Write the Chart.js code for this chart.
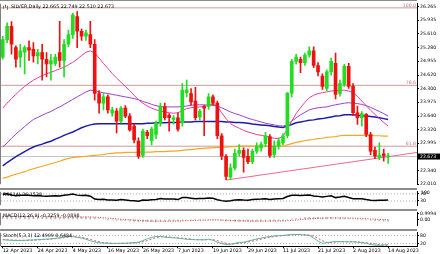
<!DOCTYPE html>
<html>
<head>
<meta charset="utf-8">
<script src="https://cdn.jsdelivr.net/npm/chart.js@4.4.0/dist/chart.umd.min.js"></script>
<style>
  body { margin: 0; background: #fff; width: 440px; height: 254px; overflow: hidden; position: relative; }
  canvas { position: absolute; left: 0; }
</style>
</head>
<body>
<canvas id="main" width="440" height="188" style="top:0px"></canvas>
<canvas id="rsi" width="440" height="21" style="top:188px"></canvas>
<canvas id="macd" width="440" height="20" style="top:209px"></canvas>
<canvas id="stoch" width="440" height="25" style="top:229px"></canvas>
<script>
"use strict";

// ---- data ----
const dateLabels = ['12 Apr 2023', '24 Apr 2023', '4 May 2023', '16 May 2023', '26 May 2023', '7 Jun 2023',
                    '19 Jun 2023', '29 Jun 2023', '11 Jul 2023', '21 Jul 2023', '2 Aug 2023', '14 Aug 2023'];
const dateBars = [0, 8, 16, 24, 32, 40, 48, 56, 64, 72, 80, 88];

const opens = [25.05, 25.47, 25.79, 25.28, 25.05, 25.17, 25.28, 25.24, 25.08, 25.16,
               25.00, 24.89, 24.90, 25.16, 24.97, 25.36, 25.59, 26.02, 25.67, 25.55,
               25.59, 25.36, 24.18, 23.95, 24.10, 23.71, 23.76, 23.52, 23.83, 23.64,
               23.40, 23.04, 22.70, 23.25, 23.05, 23.20, 23.48, 23.87, 23.66, 23.56,
               23.60, 23.48, 24.20, 24.18, 24.00, 23.62, 23.87, 23.87, 24.10, 23.95,
               23.17, 22.68, 22.18, 22.40, 22.75, 22.82, 22.68, 22.55, 22.80, 22.88,
               22.98, 23.15, 22.72, 22.92, 23.00, 23.17, 24.19, 24.95, 25.00, 24.92,
               25.10, 25.20, 24.85, 24.60, 24.30, 24.70, 24.90, 24.18, 24.40, 24.83,
               24.35, 23.72, 23.60, 23.68, 23.20, 22.82, 22.65, 22.74, 22.665];
const highs = [25.55, 25.87, 25.90, 25.32, 25.36, 25.32, 25.44, 25.40, 25.24, 25.36,
               25.16, 25.12, 25.12, 25.91, 25.47, 25.70, 26.10, 26.14, 25.72, 25.70,
               25.91, 25.47, 24.25, 24.18, 24.15, 23.85, 23.82, 23.87, 23.89, 23.70,
               23.45, 23.12, 23.33, 23.30, 23.38, 23.52, 23.95, 23.95, 23.70, 23.65,
               23.72, 24.42, 24.50, 24.30, 24.33, 23.80, 23.90, 24.18, 24.15, 24.00,
               23.22, 22.72, 22.50, 22.85, 22.96, 22.88, 22.85, 22.85, 23.00, 23.02,
               23.25, 23.20, 23.05, 23.12, 23.22, 24.20, 25.00, 25.12, 25.05, 25.15,
               25.30, 25.30, 24.92, 24.65, 24.75, 25.03, 25.15, 24.50, 24.88, 24.90,
               24.42, 23.88, 23.75, 23.70, 23.25, 22.90, 23.00, 22.85, 22.749];
const lows  = [25.00, 25.40, 25.12, 24.81, 24.81, 24.65, 24.97, 24.93, 24.89, 24.50,
               24.58, 24.50, 24.85, 24.81, 24.58, 25.30, 25.50, 25.28, 25.45, 25.45,
               25.28, 24.02, 23.71, 23.79, 23.71, 23.64, 23.24, 23.48, 23.60, 23.28,
               23.00, 22.63, 22.65, 23.10, 22.95, 23.10, 23.40, 23.55, 23.28, 23.45,
               23.28, 23.40, 24.10, 23.90, 23.55, 23.55, 23.17, 23.80, 23.90, 23.10,
               22.60, 22.12, 22.12, 22.35, 22.68, 22.30, 22.50, 22.50, 22.75, 22.80,
               22.90, 22.65, 22.65, 22.85, 22.95, 23.12, 24.10, 24.88, 24.68, 24.85,
               25.05, 24.80, 24.60, 24.28, 24.25, 24.62, 24.05, 24.12, 24.35, 24.30,
               23.65, 23.44, 23.40, 23.15, 22.72, 22.62, 22.60, 22.56, 22.510];
const closes = [25.47, 25.79, 25.36, 25.00, 25.20, 25.28, 25.22, 25.08, 25.16, 25.00,
                24.89, 24.97, 25.05, 24.97, 25.36, 25.59, 26.06, 25.67, 25.55, 25.63,
                25.36, 24.18, 23.95, 24.10, 23.79, 23.79, 23.52, 23.83, 23.64, 23.31,
                23.07, 22.68, 23.28, 23.17, 23.33, 23.48, 23.87, 23.60, 23.60, 23.60,
                23.33, 24.26, 24.27, 23.98, 23.60, 23.76, 23.83, 24.10, 23.95, 23.17,
                22.68, 22.20, 22.40, 22.75, 22.82, 22.65, 22.55, 22.80, 22.92, 22.96,
                23.17, 22.70, 22.92, 23.05, 23.17, 24.19, 24.95, 25.05, 24.92, 25.10,
                25.20, 24.85, 24.70, 24.35, 24.70, 24.95, 24.16, 24.42, 24.83, 24.35,
                23.72, 23.60, 23.70, 23.20, 22.80, 22.68, 22.71, 22.69, 22.673];

const maPink = [23.83, 23.95, 24.06, 24.16, 24.26, 24.35, 24.43, 24.50, 24.56, 24.61,
                24.65, 24.69, 24.73, 24.77, 24.81, 24.87, 24.93, 25.00, 25.09, 25.17,
                25.20, 25.15, 25.03, 24.90, 24.78, 24.66, 24.55, 24.45, 24.35, 24.25,
                24.14, 24.03, 23.95, 23.88, 23.83, 23.79, 23.76, 23.74, 23.72, 23.71,
                23.72, 23.77, 23.82, 23.84, 23.85, 23.86, 23.87, 23.90, 23.93, 23.88,
                23.72, 23.58, 23.46, 23.40, 23.35, 23.30, 23.26, 23.23, 23.20, 23.18,
                23.16, 23.13, 23.11, 23.10, 23.16, 23.33, 23.52, 23.70, 23.84, 23.97,
                24.08, 24.14, 24.18, 24.20, 24.22, 24.24, 24.25, 24.26, 24.26, 24.24,
                24.20, 24.11, 24.00, 23.89, 23.78, 23.68, 23.58, 23.49, 23.40];
const maPurple = [22.90, 23.00, 23.11, 23.21, 23.30, 23.39, 23.48, 23.56, 23.61, 23.66,
                  23.71, 23.75, 23.81, 23.86, 23.92, 23.98, 24.04, 24.10, 24.16, 24.22,
                  24.26, 24.25, 24.22, 24.20, 24.18, 24.16, 24.14, 24.12, 24.10, 24.08,
                  24.06, 24.03, 23.99, 23.96, 23.92, 23.89, 23.87, 23.86, 23.86, 23.86,
                  23.86, 23.87, 23.88, 23.90, 23.91, 23.91, 23.91, 23.90, 23.90, 23.88,
                  23.84, 23.79, 23.74, 23.70, 23.67, 23.63, 23.59, 23.56, 23.53, 23.50,
                  23.47, 23.45, 23.43, 23.41, 23.40, 23.44, 23.52, 23.60, 23.67, 23.73,
                  23.79, 23.82, 23.84, 23.85, 23.86, 23.89, 23.91, 23.93, 23.95, 23.96,
                  23.95, 23.94, 23.92, 23.89, 23.85, 23.80, 23.75, 23.70, 23.64];
const maBlue = [22.45, 22.53, 22.60, 22.67, 22.73, 22.79, 22.85, 22.90, 22.94, 22.97,
                23.01, 23.04, 23.09, 23.13, 23.18, 23.22, 23.26, 23.31, 23.36, 23.40,
                23.43, 23.45, 23.46, 23.46, 23.46, 23.46, 23.46, 23.46, 23.46, 23.46,
                23.46, 23.46, 23.46, 23.47, 23.47, 23.48, 23.48, 23.48, 23.49, 23.49,
                23.49, 23.50, 23.50, 23.50, 23.51, 23.51, 23.51, 23.51, 23.51, 23.51,
                23.51, 23.50, 23.50, 23.49, 23.49, 23.48, 23.47, 23.45, 23.44, 23.43,
                23.42, 23.41, 23.39, 23.38, 23.37, 23.40, 23.44, 23.48, 23.50, 23.52,
                23.54, 23.55, 23.57, 23.58, 23.60, 23.62, 23.64, 23.65, 23.67, 23.67,
                23.67, 23.66, 23.65, 23.64, 23.63, 23.62, 23.60, 23.58, 23.56];
const maOrange = [22.15, 22.18, 22.22, 22.25, 22.28, 22.31, 22.35, 22.38, 22.41, 22.44,
                  22.47, 22.50, 22.53, 22.56, 22.60, 22.63, 22.65, 22.66, 22.67, 22.68,
                  22.69, 22.70, 22.71, 22.72, 22.74, 22.75, 22.76, 22.76, 22.77, 22.77,
                  22.77, 22.78, 22.78, 22.78, 22.78, 22.79, 22.79, 22.79, 22.80, 22.80,
                  22.81, 22.82, 22.83, 22.84, 22.85, 22.86, 22.87, 22.88, 22.88, 22.89,
                  22.90, 22.90, 22.91, 22.91, 22.92, 22.92, 22.92, 22.92, 22.92, 22.92,
                  22.92, 22.92, 22.92, 22.92, 22.92, 22.95, 22.98, 23.01, 23.03, 23.05,
                  23.07, 23.08, 23.10, 23.11, 23.13, 23.14, 23.15, 23.17, 23.18, 23.18,
                  23.18, 23.18, 23.18, 23.18, 23.18, 23.17, 23.17, 23.16, 23.16];

const fibLevels = [26.23, 24.377, 22.92];
const fibNames = ['100.0', '78.6', '61.8'];
const trendX = [51, 94.6];
const trendY = [22.11, 22.77];
const lastPrice = 22.673;
const priceTicks = [26.265, 25.935, 25.610, 25.280, 24.955, 24.620, 24.300, 23.975,
                    23.640, 23.320, 22.995, 22.340, 22.010];

const rsi = [68, 71, 64, 60, 62, 63, 62, 60, 61, 58, 57, 58, 59, 58, 62, 65, 69, 63, 61, 62,
             57, 41, 38, 40, 36, 36, 34, 38, 36, 33, 31, 28, 35, 34, 37, 39, 44, 41, 41, 41,
             38, 49, 49, 46, 42, 44, 44, 47, 45, 37, 32, 28, 31, 36, 37, 35, 34, 38, 40, 41,
             43, 38, 41, 43, 44, 55, 62, 63, 61, 63, 64, 58, 56, 52, 56, 59, 49, 52, 56, 50,
             43, 42, 43, 38, 34, 33, 34, 34, 36.15];
const rsiLevels = [70, 30];

const macdMain = [0.55, 0.58, 0.56, 0.52, 0.50, 0.48, 0.46, 0.43, 0.41, 0.38, 0.35, 0.33, 0.31, 0.29, 0.30,
                  0.33, 0.40, 0.41, 0.41, 0.41, 0.38, 0.25, 0.13, 0.05, -0.04, -0.10, -0.17, -0.20, -0.24,
                  -0.29, -0.35, -0.42, -0.42, -0.42, -0.41, -0.39, -0.33, -0.30, -0.28, -0.26, -0.26,
                  -0.18, -0.12, -0.10, -0.10, -0.09, -0.09, -0.06, -0.05, -0.11, -0.19, -0.28, -0.33,
                  -0.34, -0.34, -0.35, -0.36, -0.35, -0.33, -0.31, -0.27, -0.28, -0.27, -0.25, -0.22,
                  -0.12, 0.02, 0.13, 0.20, 0.27, 0.33, 0.34, 0.33, 0.29, 0.28, 0.29, 0.23, 0.20, 0.21,
                  0.18, 0.10, 0.02, -0.04, -0.12, -0.19, -0.25, -0.29, -0.31, -0.33];
const macdSignal = [0.45, 0.48, 0.50, 0.51, 0.51, 0.51, 0.50, 0.49, 0.47, 0.45, 0.43, 0.41, 0.39, 0.37, 0.35,
                    0.35, 0.36, 0.37, 0.38, 0.39, 0.39, 0.36, 0.32, 0.26, 0.20, 0.14, 0.08, 0.02, -0.03,
                    -0.08, -0.13, -0.19, -0.24, -0.28, -0.31, -0.33, -0.33, -0.33, -0.32, -0.31, -0.30,
                    -0.27, -0.24, -0.21, -0.19, -0.17, -0.15, -0.13, -0.11, -0.11, -0.13, -0.16, -0.19,
                    -0.22, -0.25, -0.27, -0.29, -0.30, -0.31, -0.31, -0.30, -0.30, -0.29, -0.28, -0.27,
                    -0.24, -0.19, -0.12, -0.06, 0.01, 0.07, 0.13, 0.17, 0.20, 0.22, 0.24, 0.24, 0.23, 0.23,
                    0.22, 0.20, 0.17, 0.14, 0.10, 0.06, 0.02, -0.02, -0.06, -0.09];
const macdTicks = [0.9994, 0];

const stochMain = [48, 46, 44, 43, 43, 44, 46, 47, 49, 51, 53, 55, 59, 63, 68, 72, 72, 66, 60, 52,
                   40, 32, 26, 23, 22, 21, 21, 22, 22, 24, 27, 30, 42, 55, 66, 72, 72, 68, 64, 63,
                   60, 56, 52, 50, 48, 48, 48, 52, 45, 30, 20, 13, 15, 22, 28, 30, 38, 46, 54, 60,
                   67, 72, 76, 79, 80, 84, 87, 88, 86, 83, 80, 60, 38, 22, 26, 32, 35, 34, 33, 33,
                   33, 30, 26, 22, 13, 9, 7, 9, 12.49];
const stochSignal = [50, 48, 46, 45, 44, 43, 44, 45, 47, 49, 51, 53, 56, 59, 63, 68, 71, 70, 66, 59,
                     51, 41, 33, 27, 24, 22, 21, 21, 22, 23, 24, 27, 33, 42, 54, 64, 70, 71, 68, 65,
                     62, 60, 56, 53, 50, 49, 48, 49, 48, 42, 32, 21, 16, 17, 22, 27, 32, 38, 46, 53,
                     60, 66, 72, 76, 78, 81, 84, 86, 87, 86, 83, 74, 59, 40, 29, 27, 31, 34, 34, 33,
                     33, 32, 30, 26, 22, 17, 12, 9, 8.65];
const stochLevels = [80, 20];

// ---- helpers ----
const FONT = '"DejaVu Sans", sans-serif';
const XMIN = -0.4, XMAX = 94.6;
const bars = closes.map((c, i) => i);
const candleColor = bars.map(i => closes[i] >= opens[i] ? '#22dd22' : '#ee1111');
const pts = arr => arr.map((v, i) => ({x: i, y: v}));
const hline = v => [{x: XMIN, y: v}, {x: XMAX, y: v}];

function line(data, color, width, extra) {
  return Object.assign({type: 'line', data: data, borderColor: color, borderWidth: width,
                        pointRadius: 0, fill: false, tension: 0, order: 1}, extra || {});
}

function yAxis(min, max, ticks, fmt) {
  return {
    position: 'right', min: min, max: max,
    afterFit: s => { s.width = 23; },
    afterBuildTicks: s => { s.ticks = ticks.map(v => ({value: v})); },
    ticks: {font: {family: FONT, size: 4.6}, color: '#000', padding: 1, callback: fmt},
    grid: {drawOnChartArea: false, tickLength: 2, color: '#000'},
    border: {display: true, color: '#000', width: 1}
  };
}

function xAxis(show) {
  return {
    type: 'linear', min: XMIN, max: XMAX, display: show, offset: false,
    afterBuildTicks: s => { s.ticks = dateBars.map(v => ({value: v})); },
    ticks: {font: {family: FONT, size: 4.8}, color: '#000', align: 'start', padding: 0, maxRotation: 0,
            autoSkip: false, callback: v => dateLabels[dateBars.indexOf(v)]},
    grid: {drawOnChartArea: false, tickLength: 2, color: '#000', offset: false},
    border: {display: true, color: '#000', width: 1}
  };
}

// panel frame + title text (+ optional label at the top of the right scale)
function panelDecor(title, topLine, topLabel) {
  return {
    id: 'panelDecor',
    afterDatasetsDraw(chart) {
      const {ctx, chartArea: a} = chart;
      ctx.save();
      ctx.fillStyle = '#8c8c8c';
      ctx.fillRect(0, 0, a.right, topLine);
      ctx.fillStyle = '#808080';
      ctx.fillRect(0, a.top, 1, a.bottom - a.top);
      ctx.font = '4.8px ' + FONT;
      ctx.fillStyle = '#000';
      ctx.textBaseline = 'top';
      ctx.fillText(title, a.left + (topLine === 1 ? 10 : 2), a.top + 1);
      if (topLabel) {
        ctx.font = '4.6px ' + FONT;
        ctx.fillText(topLabel, a.right + 4, a.top - 1);
      }
      ctx.restore();
    }
  };
}

const baseOptions = {
  responsive: false, animation: false, events: [], devicePixelRatio: 1,
  plugins: {legend: {display: false}, tooltip: {enabled: false}}
};

// ---- main price chart ----
const mainDecor = {
  id: 'mainDecor',
  afterDatasetsDraw(chart) {
    const {ctx, chartArea: a, scales: {y}} = chart;
    ctx.save();
    // little chart icon before the title
    ctx.fillStyle = '#4a8a4a';
    ctx.fillRect(a.left + 2, a.top + 2, 1, 3);
    ctx.fillStyle = '#c04040';
    ctx.fillRect(a.left + 4, a.top + 1, 1, 3);
    ctx.fillStyle = '#4a8a4a';
    ctx.fillRect(a.left + 6, a.top + 2, 1, 4);
    ctx.font = '4.6px ' + FONT;
    ctx.textAlign = 'right';
    ctx.textBaseline = 'bottom';
    ctx.fillStyle = '#c07878';
    fibLevels.forEach((v, k) => ctx.fillText(fibNames[k], a.right - 1, y.getPixelForValue(v)));
    const py = y.getPixelForValue(lastPrice);
    ctx.fillStyle = '#000';
    ctx.fillRect(a.right + 1, py - 3, 22, 6);
    ctx.fillStyle = '#fff';
    ctx.textAlign = 'left';
    ctx.textBaseline = 'middle';
    ctx.fillText(lastPrice.toFixed(3), a.right + 3, py);
    ctx.restore();
  }
};

new Chart(document.getElementById('main'), {
  type: 'bar',
  data: {
    datasets: [
      {type: 'bar', data: bars.map(i => ({x: i, y: [opens[i], closes[i]]})), backgroundColor: candleColor,
       barThickness: 3, grouped: false, minBarLength: 1, order: 0},
      {type: 'bar', data: bars.map(i => ({x: i, y: [lows[i], highs[i]]})), backgroundColor: candleColor,
       barThickness: 1, grouped: false, order: 0},
      line(pts(maPink), '#ee3b9a', 1),
      line(pts(maPurple), '#9b3fd0', 1),
      line(pts(maBlue), '#1c1ca8', 1.5),
      line(pts(maOrange), '#f5a623', 1.2),
      line(trendX.map((x, k) => ({x: x, y: trendY[k]})), '#f06a8a', 1, {order: 2}),
      line(hline(fibLevels[0]), '#cc9a9a', 1, {order: 3}),
      line(hline(fibLevels[1]), '#cc9a9a', 1, {order: 3}),
      line(hline(fibLevels[2]), '#cc9a9a', 1, {order: 3}),
      line(hline(lastPrice), '#c4c4c4', 1, {order: 3})
    ]
  },
  options: Object.assign({}, baseOptions, {
    layout: {padding: {left: 1, top: 2, right: 0, bottom: 2}},
    scales: {
      x: xAxis(false),
      y: yAxis(22.01, 26.328, priceTicks, v => v.toFixed(3))
    }
  }),
  plugins: [panelDecor('SILVER,Daily 22.665 22.749 22.510 22.673', 1), mainDecor]
});

// ---- RSI ----
new Chart(document.getElementById('rsi'), {
  type: 'line',
  data: {
    datasets: [
      line(pts(rsi), '#000', 1.5),
      line(hline(rsiLevels[0]), '#b0b0b0', 1, {borderDash: [1, 2]}),
      line(hline(rsiLevels[1]), '#b0b0b0', 1, {borderDash: [1, 2]})
    ]
  },
  options: Object.assign({}, baseOptions, {
    layout: {padding: {left: 1, top: 2, right: 0, bottom: 0}},
    scales: {x: xAxis(false), y: yAxis(6, 82, rsiLevels, v => String(v))}
  }),
  plugins: [panelDecor('RSI(14) 36.1538', 2, '100')]
});

// ---- MACD ----
new Chart(document.getElementById('macd'), {
  type: 'bar',
  data: {
    datasets: [
      {type: 'bar', data: pts(macdMain), backgroundColor: '#b8b8b8', barThickness: 1, grouped: false, order: 1},
      line(pts(macdSignal), '#e03030', 1, {borderDash: [1, 1.5], order: 0})
    ]
  },
  options: Object.assign({}, baseOptions, {
    layout: {padding: {left: 1, top: 2, right: 0, bottom: 0}},
    scales: {x: xAxis(false), y: yAxis(-1.0, 1.1, macdTicks, v => v === 0 ? '0.00' : v.toFixed(4))}
  }),
  plugins: [panelDecor('MACD(12,26,9) -0.3259 -0.0898', 2)]
});

// ---- Stochastic ----
new Chart(document.getElementById('stoch'), {
  type: 'line',
  data: {
    datasets: [
      line(pts(stochMain), '#5fb5a5', 1),
      line(pts(stochSignal), '#e05050', 1, {borderDash: [2, 2]}),
      line(hline(stochLevels[0]), '#b0b0b0', 1, {borderDash: [1, 2]}),
      line(hline(stochLevels[1]), '#b0b0b0', 1, {borderDash: [1, 2]})
    ]
  },
  options: Object.assign({}, baseOptions, {
    layout: {padding: {left: 1, top: 2, right: 0, bottom: 0}},
    scales: {x: xAxis(true), y: yAxis(0, 100, stochLevels, v => String(v))}
  }),
  plugins: [panelDecor('Stoch(5,3,3) 12.4909 8.6484', 2)]
});
</script>
</body>
</html>
